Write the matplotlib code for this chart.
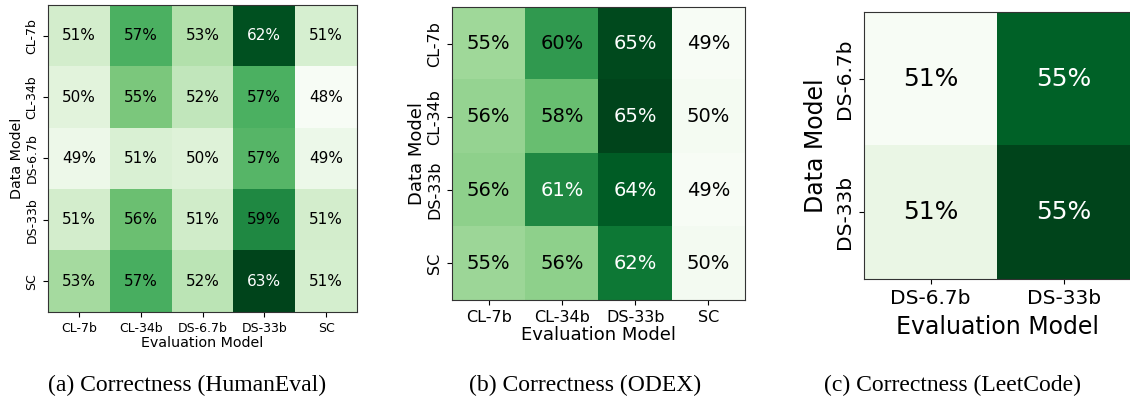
import numpy as np
import matplotlib.pyplot as plt

# (a) HumanEval: rows = data model, cols = evaluation model
he_rows = ['CL-7b', 'CL-34b', 'DS-6.7b', 'DS-33b', 'SC']
he_cols = ['CL-7b', 'CL-34b', 'DS-6.7b', 'DS-33b', 'SC']
he_vals = np.array([
    [51.0, 57.0, 52.8, 62.4, 50.8],
    [50.1, 55.2, 52.0, 57.0, 48.0],
    [49.0, 50.6, 50.3, 56.6, 49.1],
    [51.0, 55.8, 51.2, 59.4, 51.0],
    [53.4, 57.1, 52.3, 63.0, 50.9],
])

# (b) ODEX
od_rows = ['CL-7b', 'CL-34b', 'DS-33b', 'SC']
od_cols = ['CL-7b', 'CL-34b', 'DS-33b', 'SC']
od_vals = np.array([
    [55.3, 60.2, 64.7, 49.3],
    [55.7, 57.6, 65.0, 49.6],
    [56.0, 61.2, 63.8, 49.3],
    [55.4, 56.0, 62.3, 49.7],
])

# (c) LeetCode
lc_rows = ['DS-6.7b', 'DS-33b']
lc_cols = ['DS-6.7b', 'DS-33b']
lc_vals = np.array([
    [50.6, 54.6],
    [51.0, 55.0],
])

captions = ['(a) Correctness (HumanEval)', '(b) Correctness (ODEX)', '(c) Correctness (LeetCode)']

W, H = 1130, 411
fig = plt.figure(figsize=(W / 100, H / 100), dpi=100)


def px_axes(left, top, right, bottom):
    return fig.add_axes([left / W, 1 - bottom / H, (right - left) / W, (bottom - top) / H])


def heat(ax, vals, rows, cols, fs_ann, fs_tick, fs_lab, white_above, pad=1):
    ax.imshow(vals, cmap='Greens', aspect='auto', interpolation='nearest')
    for i in range(vals.shape[0]):
        for j in range(vals.shape[1]):
            c = 'white' if vals[i, j] > white_above else 'black'
            ax.text(j, i, f'{vals[i, j]:.0f}%', ha='center', va='center', color=c, fontsize=fs_ann)
    ax.set_xticks(range(len(cols)))
    ax.set_xticklabels(cols, fontsize=fs_tick)
    ax.set_yticks(range(len(rows)))
    ax.set_yticklabels(rows, fontsize=fs_tick, rotation=90, va='center')
    ax.set_xlabel('Evaluation Model', fontsize=fs_lab, labelpad=pad)
    ax.set_ylabel('Data Model', fontsize=fs_lab, labelpad=pad)
    for s in ax.spines.values():
        s.set_color('#333333')


ax1 = px_axes(48, 5, 357, 312)
heat(ax1, he_vals, he_rows, he_cols, 11, 9, 10.3, 60)

ax2 = px_axes(452, 7, 745, 300)
heat(ax2, od_vals, od_rows, od_cols, 14, 11.5, 13, 60.5)

ax3 = px_axes(864, 12, 1131, 279)
heat(ax3, lc_vals, lc_rows, lc_cols, 18, 14.5, 17, 53, pad=5)

for x, txt in zip([187, 585, 952], captions):
    fig.text(x / W, 1 - 385 / H, txt, ha='center', va='center',
             fontsize=17, family='Liberation Serif')

fig.savefig('out.png', dpi=100)
